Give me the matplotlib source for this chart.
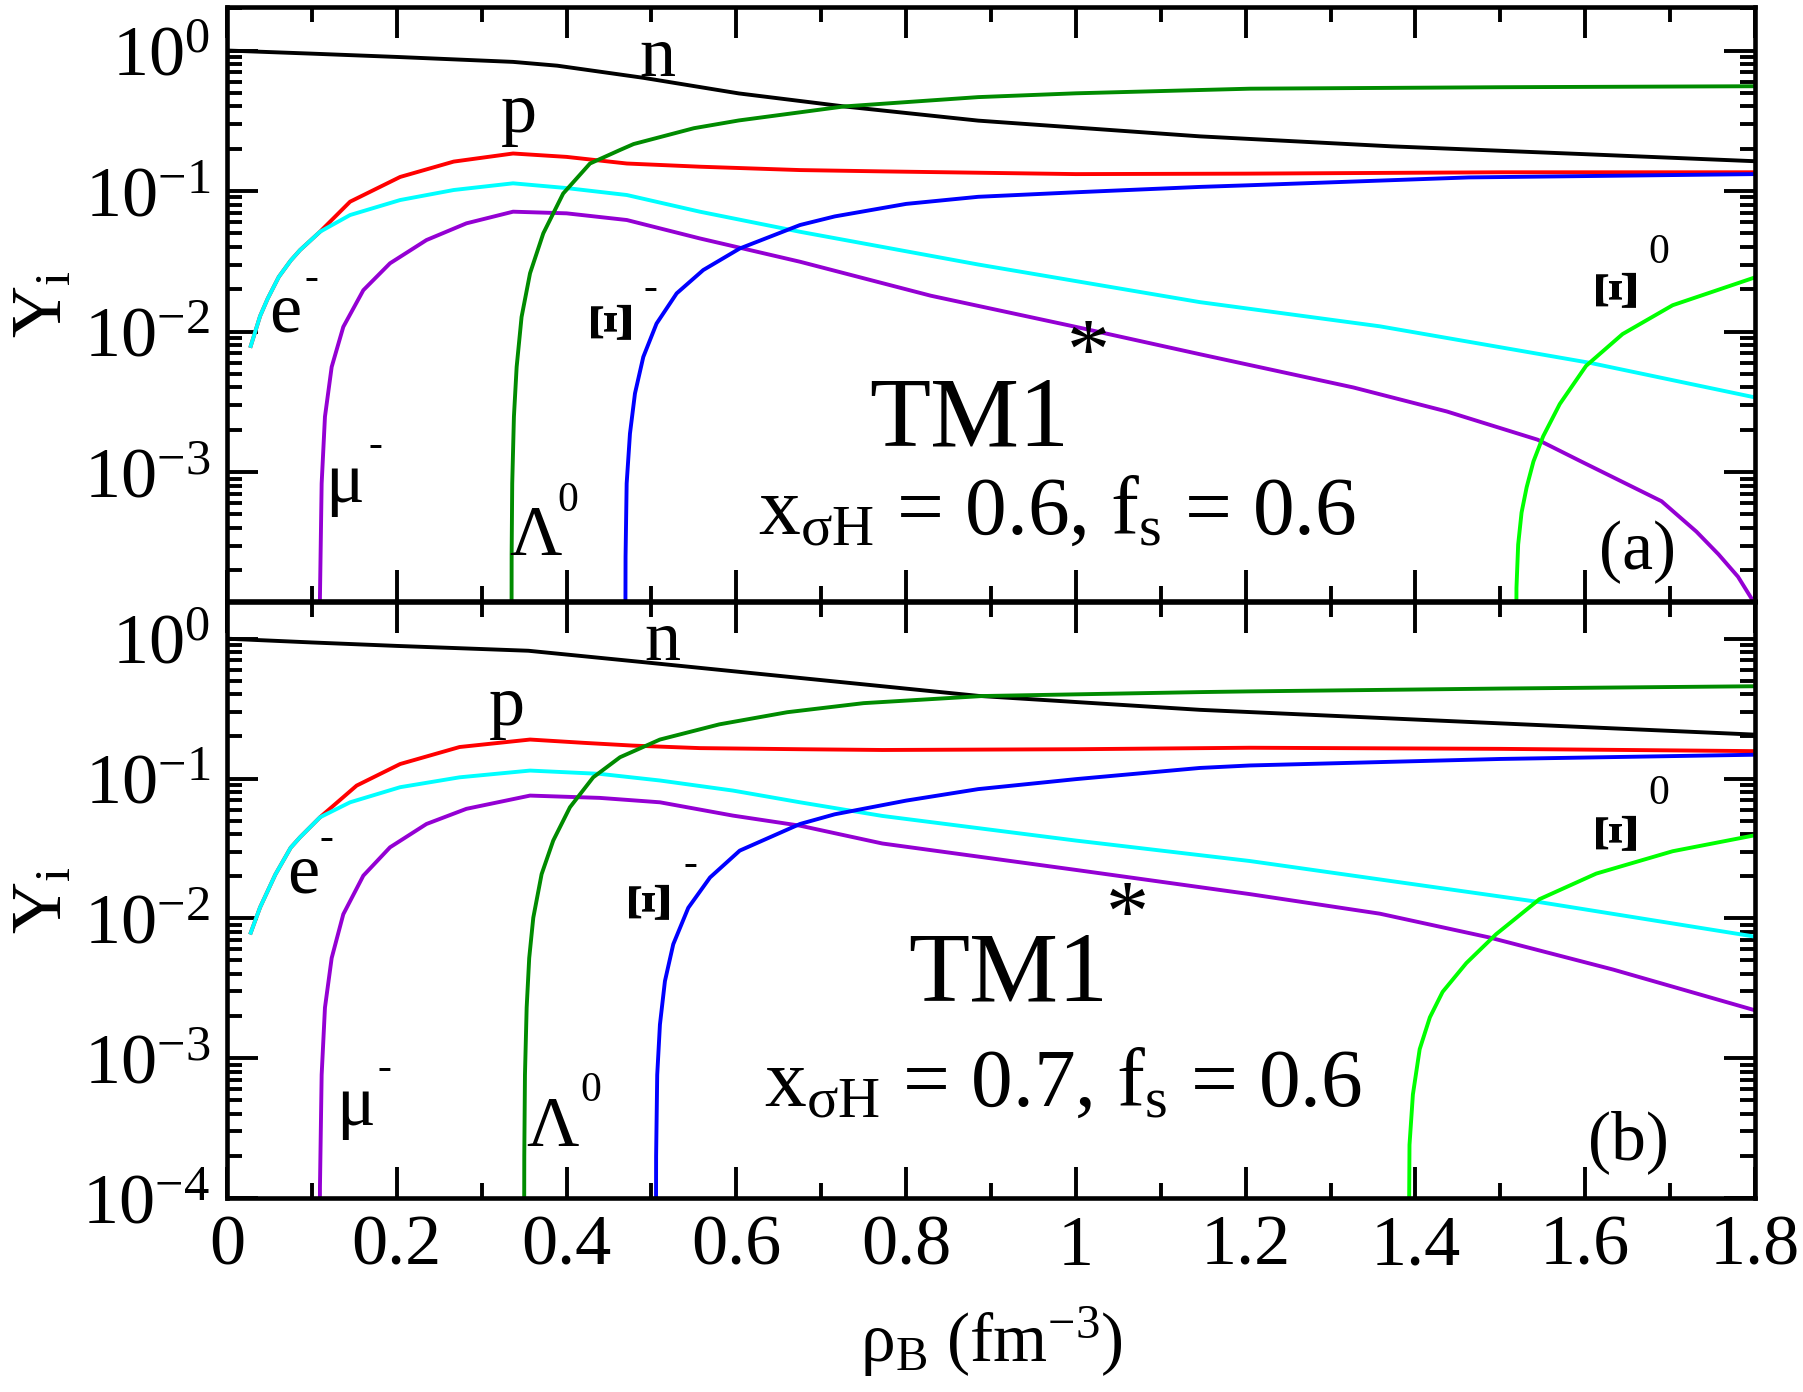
import matplotlib
matplotlib.use('Agg')
import matplotlib.pyplot as plt
from matplotlib.ticker import FixedLocator, MultipleLocator, LogLocator, NullFormatter, FuncFormatter
import numpy as np
from math import log10

plt.rcParams['font.family'] = ['Liberation Serif', 'DejaVu Serif']
plt.rcParams['mathtext.fontset'] = 'custom'
plt.rcParams['mathtext.rm'] = 'Liberation Serif'
plt.rcParams['mathtext.it'] = 'Liberation Serif:italic'
plt.rcParams['mathtext.bf'] = 'Liberation Serif:bold'

# ---- panel (a): x_sigmaH = 0.6 ----
n_a_x = [0, 0.1, 0.2, 0.337, 0.389, 0.49, 0.603, 0.727, 0.885, 1.0, 1.146, 1.372, 1.599, 1.8]
n_a_y = [1.0, 0.95, 0.9, 0.83, 0.78, 0.64, 0.495, 0.40, 0.317, 0.283, 0.245, 0.208, 0.183, 0.163]

p_a_x = [0.028, 0.039, 0.048, 0.061, 0.075, 0.086, 0.1095, 0.145, 0.204, 0.267, 0.337, 0.40, 0.471, 0.557, 0.675, 0.772, 1.0, 1.2, 1.5, 1.8]
p_a_y = [0.0079, 0.0129, 0.0172, 0.0245, 0.032, 0.038, 0.0513, 0.084, 0.126, 0.162, 0.185, 0.175, 0.157, 0.149, 0.141, 0.138, 0.132, 0.133, 0.136, 0.136]

e_a_x = [0.028, 0.039, 0.048, 0.061, 0.075, 0.086, 0.1095, 0.145, 0.204, 0.267, 0.337, 0.40, 0.471, 0.557, 0.675, 0.885, 1.146, 1.358, 1.605, 1.8]
e_a_y = [0.0079, 0.0129, 0.0172, 0.0245, 0.032, 0.038, 0.0513, 0.0675, 0.0863, 0.1017, 0.1135, 0.105, 0.0937, 0.0713, 0.0513, 0.030, 0.0162, 0.0109, 0.006, 0.0034]

mu_a_x = [0.1088, 0.1095, 0.1115, 0.1154, 0.1233, 0.137, 0.1606, 0.192, 0.235, 0.282, 0.337, 0.40, 0.471, 0.557, 0.675, 0.829, 1.0, 1.146, 1.327, 1.437, 1.544, 1.594, 1.69, 1.731, 1.757, 1.78, 1.8]
mu_a_y = [1e-6, 1.3e-4, 8.3e-4, 0.00248, 0.0056, 0.0108, 0.0197, 0.0306, 0.0448, 0.0589, 0.0713, 0.0694, 0.0622, 0.046, 0.0314, 0.018, 0.0108, 0.0069, 0.0040, 0.0027, 0.0017, 0.0012, 6.2e-4, 3.77e-4, 2.6e-4, 1.8e-4, 1.15e-4]

lam_a_x = [0.3348, 0.3353, 0.336, 0.338, 0.3412, 0.347, 0.357, 0.3726, 0.396, 0.4276, 0.463, 0.479, 0.55, 0.603, 0.727, 0.885, 1.0, 1.205, 1.5, 1.8]
lam_a_y = [1e-6, 2.6e-4, 8.3e-4, 0.00248, 0.0056, 0.0127, 0.026, 0.050, 0.096, 0.157, 0.196, 0.216, 0.28, 0.318, 0.40, 0.466, 0.496, 0.535, 0.548, 0.557]

xim_a_x = [0.4685, 0.4695, 0.4708, 0.4747, 0.4806, 0.4904, 0.506, 0.5297, 0.561, 0.604, 0.675, 0.716, 0.8, 0.885, 1.0, 1.146, 1.205, 1.463, 1.8]
xim_a_y = [1e-6, 2.5e-4, 8.3e-4, 0.00188, 0.00363, 0.0066, 0.0114, 0.0187, 0.0274, 0.039, 0.0573, 0.066, 0.081, 0.091, 0.098, 0.107, 0.110, 0.125, 0.132]

xi0_a_x = [1.5175, 1.519, 1.521, 1.525, 1.531, 1.539, 1.5505, 1.570, 1.601, 1.644, 1.703, 1.8]
xi0_a_y = [1e-6, 1.5e-4, 3.05e-4, 5.15e-4, 7.8e-4, 0.00119, 0.0018, 0.00305, 0.0057, 0.0096, 0.0154, 0.0243]

# ---- panel (b): x_sigmaH = 0.7 ----
n_b_x = [0, 0.1, 0.2, 0.355, 0.49, 0.66, 0.885, 1.146, 1.5, 1.8]
n_b_y = [1.0, 0.94, 0.888, 0.82, 0.68, 0.535, 0.39, 0.31, 0.248, 0.206]

p_b_x = [0.028, 0.039, 0.057, 0.075, 0.086, 0.1095, 0.1527, 0.204, 0.274, 0.357, 0.42, 0.478, 0.557, 0.675, 0.772, 1.0, 1.205, 1.5, 1.8]
p_b_y = [0.0079, 0.012, 0.0206, 0.032, 0.038, 0.0528, 0.089, 0.127, 0.168, 0.19, 0.18, 0.172, 0.165, 0.162, 0.16, 0.162, 0.166, 0.163, 0.157]

e_b_x = [0.028, 0.039, 0.057, 0.075, 0.086, 0.1095, 0.145, 0.204, 0.274, 0.357, 0.439, 0.51, 0.596, 0.675, 0.772, 1.0, 1.205, 1.545, 1.8]
e_b_y = [0.0079, 0.012, 0.0206, 0.032, 0.038, 0.0528, 0.0676, 0.0867, 0.102, 0.114, 0.108, 0.0968, 0.082, 0.0676, 0.054, 0.036, 0.0257, 0.0131, 0.0074]

mu_b_x = [0.1088, 0.1095, 0.1115, 0.1154, 0.1233, 0.137, 0.1606, 0.192, 0.235, 0.282, 0.357, 0.439, 0.51, 0.596, 0.675, 0.772, 1.0, 1.205, 1.358, 1.487, 1.633, 1.8]
mu_b_y = [1e-6, 1.2e-4, 7.6e-4, 0.0023, 0.0052, 0.0107, 0.0202, 0.0322, 0.0473, 0.0607, 0.0755, 0.0727, 0.0676, 0.0543, 0.046, 0.0343, 0.0222, 0.0149, 0.0108, 0.0073, 0.0043, 0.0022]

lam_b_x = [0.3495, 0.3502, 0.351, 0.353, 0.356, 0.3608, 0.3706, 0.3843, 0.404, 0.4314, 0.463, 0.51, 0.58, 0.66, 0.75, 0.89, 1.146, 1.205, 1.5, 1.8]
lam_b_y = [1e-6, 2e-4, 7.6e-4, 0.0023, 0.0052, 0.0101, 0.0207, 0.036, 0.0623, 0.102, 0.142, 0.19, 0.244, 0.298, 0.346, 0.389, 0.415, 0.42, 0.44, 0.457]

xim_b_x = [0.5048, 0.5055, 0.5068, 0.51, 0.5159, 0.5257, 0.5434, 0.569, 0.604, 0.675, 0.716, 0.8, 0.885, 1.0, 1.146, 1.205, 1.5, 1.8]
xim_b_y = [1e-6, 2e-4, 7.6e-4, 0.00174, 0.00356, 0.00653, 0.0119, 0.0196, 0.0305, 0.0473, 0.0555, 0.0695, 0.084, 0.099, 0.119, 0.124, 0.138, 0.148]

xi0_b_x = [1.3905, 1.393, 1.397, 1.405, 1.417, 1.432, 1.460, 1.495, 1.546, 1.613, 1.703, 1.8]
xi0_b_y = [1e-6, 2.4e-4, 5.5e-4, 0.00116, 0.00196, 0.00298, 0.00479, 0.0077, 0.0137, 0.0209, 0.0302, 0.0393]

colors = {'n': 'black', 'p': 'red', 'e': '#00FFFF', 'mu': '#9400D3',
          'lam': '#008B00', 'xim': 'blue', 'xi0': '#00FF00'}

panels = [
	dict(curves=[('n', n_a_x, n_a_y), ('p', p_a_x, p_a_y), ('e', e_a_x, e_a_y),
	             ('mu', mu_a_x, mu_a_y), ('lam', lam_a_x, lam_a_y),
	             ('xim', xim_a_x, xim_a_y), ('xi0', xi0_a_x, xi0_a_y)],
	     ylim=(1.21e-4, 2.04), xsh='0.6', tag='(a)'),
	dict(curves=[('n', n_b_x, n_b_y), ('p', p_b_x, p_b_y), ('e', e_b_x, e_b_y),
	             ('mu', mu_b_x, mu_b_y), ('lam', lam_b_x, lam_b_y),
	             ('xim', xim_b_x, xim_b_y), ('xi0', xi0_b_x, xi0_b_y)],
	     ylim=(1.0e-4, 1.83), xsh='0.7', tag='(b)'),
]

# text positions (axes fraction) per panel
text_pos = [
	dict(n=(0.282, 0.884), p=(0.191, 0.789), e=(0.038, 0.453), em=(0.055, 0.543),
	     mu=(0.077, 0.167), mum=(0.097, 0.261), lam=(0.202, 0.077), lam0=(0.223, 0.169),
	     xi=(0.253, 0.476), xim=(0.277, 0.526), xi0=(0.911, 0.530), xi00=(0.937, 0.587),
	     tm=(0.486, 0.261), star=(0.564, 0.41), par=(0.543, 0.114), tag=(0.923, 0.054)),
	dict(n=(0.285, 0.903), p=(0.183, 0.794), e=(0.050, 0.513), em=(0.065, 0.602),
	     mu=(0.084, 0.123), mum=(0.103, 0.217), lam=(0.213, 0.087), lam0=(0.238, 0.18),
	     xi=(0.278, 0.503), xim=(0.303, 0.559), xi0=(0.911, 0.618), xi00=(0.937, 0.678),
	     tm=(0.511, 0.3315), star=(0.589, 0.467), par=(0.547, 0.155), tag=(0.917, 0.065)),
]

W, H = 1803, 1392
fig = plt.figure(figsize=(W / 100, H / 100), dpi=100)
ax_a = fig.add_axes([227 / W, 1 - 601 / H, 1528 / W, 594 / H])
ax_b = fig.add_axes([227 / W, 1 - 1198 / H, 1528 / W, 596 / H])


def logfmt(v, pos):
	return r'$\mathrm{10^{%d}}$' % round(log10(v))


def xfmt(v, pos):
	return '%g' % round(v, 1)


def txt(ax, xy, s, size, ha='center', va='baseline', **kw):
	ax.text(xy[0], xy[1], s, transform=ax.transAxes, fontsize=size, ha=ha, va=va, **kw)


for i, (ax, pan, tp) in enumerate(zip([ax_a, ax_b], panels, text_pos)):
	for key, x, y in pan['curves']:
		ax.plot(x, y, color=colors[key], lw=2.8)

	ax.set_yscale('log')
	ax.set_xlim(0, 1.8)
	ax.set_ylim(*pan['ylim'])
	ax.yaxis.set_major_locator(FixedLocator([1e-4, 1e-3, 1e-2, 1e-1, 1]))
	ax.yaxis.set_major_formatter(FuncFormatter(logfmt))
	ax.yaxis.set_minor_locator(LogLocator(base=10, subs=np.arange(2, 10) * 1.0, numticks=20))
	ax.yaxis.set_minor_formatter(NullFormatter())
	ax.xaxis.set_major_locator(MultipleLocator(0.2))
	ax.xaxis.set_minor_locator(MultipleLocator(0.1))
	ax.xaxis.set_major_formatter(FuncFormatter(xfmt))
	ax.tick_params(which='both', direction='in', top=True, right=True, width=2.8, labelsize=52, pad=12)
	ax.tick_params(which='major', length=22)
	ax.tick_params(which='minor', length=10.5)
	for sp in ax.spines.values():
		sp.set_linewidth(3.3)
	if i == 0:
		ax.tick_params(labelbottom=False)

	# particle labels
	txt(ax, tp['n'], 'n', 52)
	txt(ax, tp['p'], 'p', 52)
	txt(ax, tp['e'], 'e', 52)
	txt(ax, tp['em'], '-', 30, va='center')
	txt(ax, tp['mu'], 'μ', 52)
	txt(ax, tp['mum'], '-', 30, va='center')
	txt(ax, tp['lam'], 'Λ', 52)
	txt(ax, tp['lam0'], '0', 30, va='center')
	txt(ax, tp['xi'], 'Ξ', 44, va='center', rotation=90, fontweight='bold')
	txt(ax, tp['xim'], '-', 30, va='center')
	txt(ax, tp['xi0'], 'Ξ', 44, va='center', rotation=90, fontweight='bold')
	txt(ax, tp['xi00'], '0', 30, va='center')
	txt(ax, tp['tm'], 'TM1', 72)
	txt(ax, tp['star'], '*', 62, va='center')
	txt(ax, tp['par'], r'x$_{\mathrm{σH}}$ = ' + pan['xsh'] + r', f$_{\mathrm{s}}$ = 0.6', 60)
	txt(ax, tp['tag'], pan['tag'], 50)

	# y axis label
	ax.text(-0.120, 0.5, r'Y$_{\mathrm{i}}$', transform=ax.transAxes, fontsize=52,
	        rotation=90, ha='center', va='center')

fig.text(991 / W, 1 - 1342 / H, r'ρ$_{\mathrm{B}}$ (fm$^{\mathrm{-3}}$)', fontsize=50,
         ha='center', va='center')

plt.savefig('out.png', dpi=100)
